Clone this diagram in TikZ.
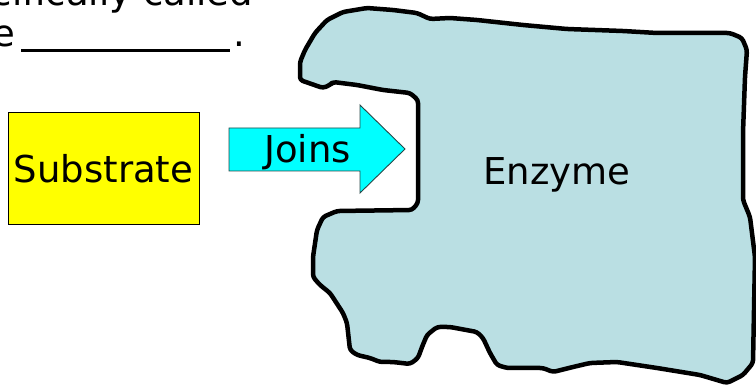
\documentclass[tikz,border=0pt]{standalone}
\usepackage{fontspec}
\setmainfont{DejaVu Sans}
\definecolor{enzymefill}{RGB}{186,223,227}
\definecolor{arrowfill}{RGB}{0,255,255}
\definecolor{arrowline}{RGB}{40,70,70}
\definecolor{boxfill}{RGB}{255,255,0}
\tikzset{
  label text/.style={font=\fontsize{37}{44}\selectfont, inner sep=0pt},
  substratebox/.style={draw=black, line width=1pt, fill=boxfill,
    minimum width=191pt, minimum height=112pt, inner sep=0pt,
    font=\fontsize{37}{44}\selectfont},
  joinsarrow/.style={draw=arrowline, line width=0.9pt, fill=arrowfill},
  enzymeshape/.style={draw=black, line width=4.5pt, line join=round,
    fill=enzymefill, rounded corners=3pt}
}
\begin{document}
\begin{tikzpicture}[x=1pt, y=-1pt]
  \useasboundingbox (0,0) rectangle (756,387);
  \clip (0,0) rectangle (756,387);

  % question text at the top left
  \node[label text, anchor=base east] (lineone) at (253,5.5) {is specifically called};
  \node[label text, anchor=base east] (linetwo) at (15.5,47) {the};
  \node[label text, anchor=base west] (blank) at (21,47)
    {\rule[-5pt]{209pt}{2.6pt}\hspace{3pt}.};

  % the enzyme with its notch
  \draw[enzymeshape]
    (300,80) -- (300,62) -- (305,50) -- (315,33) -- (327,20) -- (343,12)
    -- (367,8) -- (393,10) -- (417,13) -- (430,19) -- (450,18) -- (477,20)
    -- (523,25) -- (567,29) -- (623,31) -- (657,33) -- (730,33) -- (742,38)
    -- (747,50) -- (745,77) -- (743,133) -- (743,200) -- (750,217)
    -- (755,257) -- (753,363) -- (743,375) -- (727,383) -- (700,375)
    -- (657,368) -- (617,362) -- (590,363) -- (573,367) -- (553,372)
    -- (543,368) -- (507,368) -- (497,365) -- (490,353) -- (483,338)
    -- (477,332) -- (450,327) -- (437,327) -- (427,335) -- (422,347)
    -- (418,358) -- (410,364) -- (393,362) -- (380,362) -- (370,358)
    -- (357,355) -- (350,350) -- (347,323) -- (343,313) -- (330,293)
    -- (320,285) -- (313,277) -- (313,257) -- (317,230) -- (323,217)
    -- (337,211) -- (412,210) -- (418,203) -- (418,190) -- (418,100)
    -- (410,93) -- (383,90) -- (357,85) -- (333,82) -- (330,85)
    -- (323,88) -- cycle;
  \node[label text, anchor=base] (enzyme) at (557,185) {Enzyme};

  % substrate block
  \node[substratebox] (substrate) at (103.5,169) {Substrate};

  % block arrow pointing into the notch
  \draw[joinsarrow]
    (229,128) -- (360,128) -- (360,105) -- (405,149) -- (360,193)
    -- (360,171) -- (229,171) -- cycle;
  \node[label text, anchor=base] (joins) at (307.5,163) {Joins};
\end{tikzpicture}
\end{document}
